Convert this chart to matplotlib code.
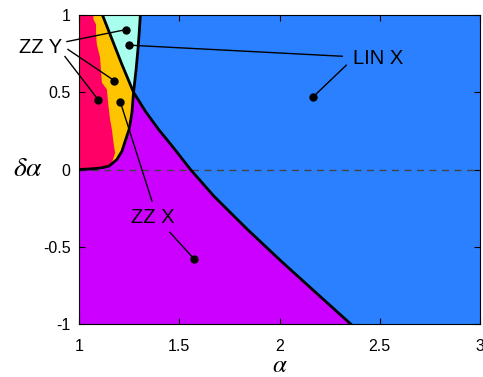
import matplotlib
matplotlib.use('Agg')
import matplotlib.pyplot as plt

plt.rcParams['font.family'] = ['Liberation Sans', 'DejaVu Sans']
plt.rcParams['mathtext.fontset'] = 'stix'
plt.rcParams['axes.unicode_minus'] = False

# phase boundary A (alpha, delta alpha), index 2 = crossing with B
A_alpha = [1.117, 1.214, 1.272, 1.331, 1.397, 1.465, 1.556, 1.673, 1.840, 2.008, 2.174, 2.355]
A_delta = [1.0, 0.68, 0.50, 0.377, 0.259, 0.151, 0.0, -0.173, -0.388, -0.593, -0.788, -1.0]
# phase boundary B, index 9 = crossing with A
B_alpha = [1.0, 1.06, 1.11, 1.15, 1.189, 1.214, 1.233, 1.250, 1.264, 1.272, 1.285, 1.294, 1.300, 1.306]
B_delta = [0.0, 0.004, 0.01, 0.022, 0.065, 0.118, 0.194, 0.26, 0.367, 0.50, 0.65, 0.777, 0.88, 1.0]
# red / yellow border (numerical, jagged)
R_alpha = [1.072, 1.072, 1.085, 1.085, 1.089, 1.105, 1.114, 1.139, 1.147, 1.155, 1.164, 1.172, 1.18, 1.167, 1.15]
R_delta = [1.0, 0.971, 0.939, 0.874, 0.809, 0.725, 0.563, 0.518, 0.41, 0.324, 0.259, 0.173, 0.108, 0.054, 0.022]

ia = 2
ib = 9

c_blue = '#2b80ff'
c_purple = '#cc00ff'
c_cyan = '#a8ffee'
c_yellow = '#ffc400'
c_red = '#ff0066'

fig = plt.figure(figsize=(4.83, 3.77), dpi=100)
ax = fig.add_axes([79/483, 53/377, 401/483, 309/377])
ax.set_facecolor(c_blue)

# purple: below A, below B
px = [1.0] + A_alpha[::-1][:len(A_alpha)-ia] + B_alpha[:ib][::-1] + [1.0]
py = [-1.0] + A_delta[::-1][:len(A_delta)-ia] + B_delta[:ib][::-1] + [0.0]
ax.fill(px, py, color=c_purple, lw=0)

# cyan: between A and B on top
cx = A_alpha[:ia+1][::-1] + B_alpha[ib:][::-1]
cy = A_delta[:ia+1][::-1] + B_delta[ib:][::-1]
ax.fill(cx, cy, color=c_cyan, lw=0)

# yellow: left of both
yx = B_alpha[:ib+1] + A_alpha[:ia][::-1] + [1.0]
yy = B_delta[:ib+1] + A_delta[:ia][::-1] + [1.0]
ax.fill(yx, yy, color=c_yellow, lw=0)

# red
rx = [1.0] + R_alpha + B_alpha[:3][::-1]
ry = [1.0] + R_delta + B_delta[:3][::-1]
ax.fill(rx, ry, color=c_red, lw=0)

ax.plot([1, 3], [0, 0], '--', color='#444444', lw=1, dashes=(5, 4))
ax.plot(A_alpha, A_delta, color='k', lw=2)
ax.plot(B_alpha, B_delta, color='k', lw=2)

ax.set_xlim(1, 3)
ax.set_ylim(-1, 1)
ax.set_xticks([1, 1.5, 2, 2.5, 3])
ax.set_xticklabels(['1', '1.5', '2', '2.5', '3'])
ax.set_yticks([-1, -0.5, 0, 0.5, 1])
ax.set_yticklabels(['-1', '-0.5', '0', '0.5', '1'])
ax.tick_params(direction='in', top=True, right=True, length=4, labelsize=11.5)
ax.tick_params(axis='x', pad=10.5)
ax.tick_params(axis='y', pad=6)

ax.set_xlabel(r'$\alpha$', fontsize=18)
ax.xaxis.set_label_coords(0.5, -0.093)
ax.set_ylabel(r'$\delta\alpha$', fontsize=20, rotation=0, ha='right', va='center')
ax.yaxis.set_label_coords(-0.09, 0.5)

# annotations
tsize = 14.5
ax.text(0.915, 0.79, 'ZZ Y', fontsize=tsize, ha='right', va='center', clip_on=False)
ax.text(2.367, 0.716, 'LIN X', fontsize=tsize, ha='left', va='center')
ax.text(1.259, -0.313, 'ZZ X', fontsize=tsize, ha='left', va='center')

lines = [
    ((0.940, 0.828), (1.236, 0.906)),
    ((0.945, 0.777), (1.175, 0.576)),
    ((0.930, 0.731), (1.095, 0.453)),
    ((2.313, 0.733), (1.247, 0.805)),
    ((2.333, 0.675), (2.166, 0.468)),
    ((1.364, -0.205), (1.206, 0.438)),
    ((1.453, -0.406), (1.573, -0.578)),
]
for (x0, y0), (x1, y1) in lines:
    ax.plot([x0, x1], [y0, y1], color='k', lw=1, clip_on=False)
    ax.plot(x1, y1, 'o', color='k', ms=5)

fig.savefig('out.png', dpi=100)
